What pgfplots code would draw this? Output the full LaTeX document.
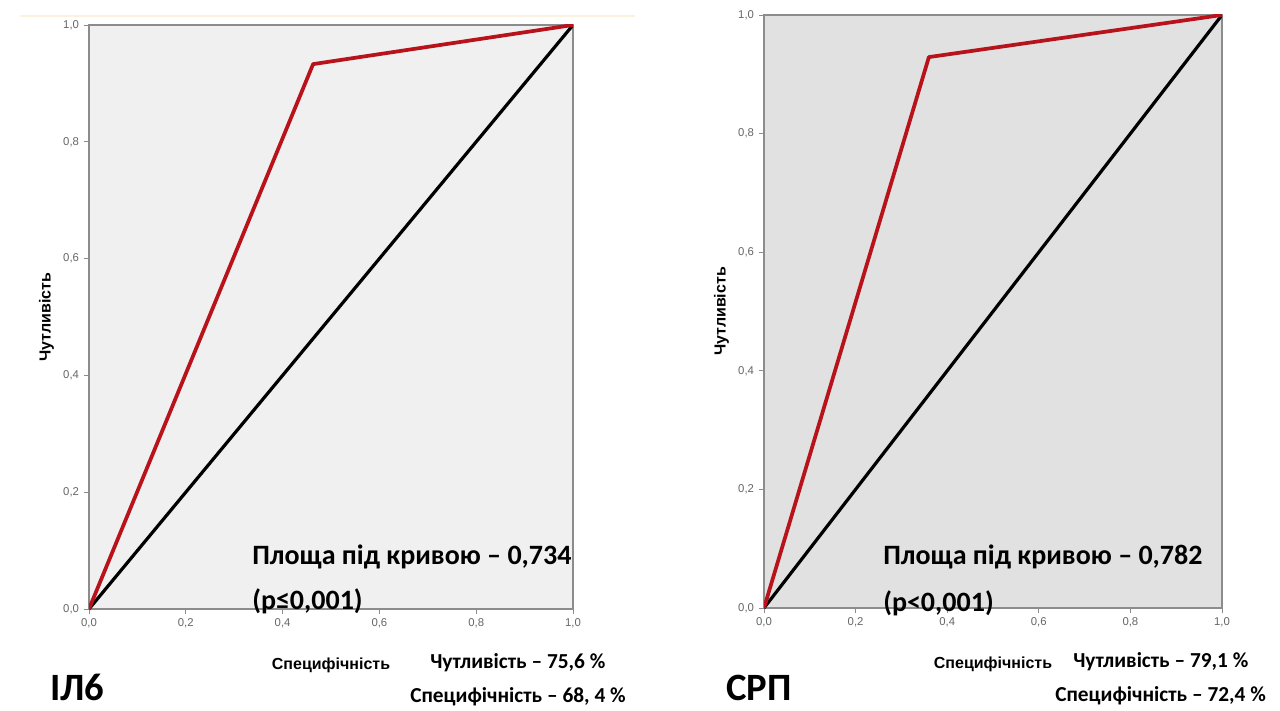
\documentclass[border=0pt]{standalone}
\usepackage{fontspec}
\setmainfont{Carlito}
\newfontfamily\arialf{Liberation Sans}
\usepackage{pgfplots}
\pgfplotsset{compat=1.18}

\definecolor{rocred}{HTML}{B8121B}
\definecolor{framegray}{HTML}{8C8C8C}
\definecolor{bgone}{HTML}{F0F0F0}
\definecolor{bgtwo}{HTML}{E1E1E1}
\definecolor{faint}{HTML}{FBF1DF}

\pgfplotsset{
  roc/.style={
    scale only axis,
    xmin=0, xmax=1, ymin=0, ymax=1,
    xtick={0,0.2,...,1}, ytick={0,0.2,...,1},
    tick align=outside, tick pos=left,
    major tick length=4pt,
    axis line style={framegray, line width=0.9pt},
    every tick/.style={framegray, line width=0.6pt},
    tick label style={font=\arialf\fontsize{8.5}{9}\selectfont, text=black!60},
    /pgf/number format/.cd, fixed, fixed zerofill, precision=1, use comma,
    assume math mode=true, /tikz/.cd,
    label style={font=\arialf\bfseries\fontsize{12}{14}\selectfont},
    xlabel style={yshift=-15pt},
    ylabel style={yshift=0pt},
    xlabel={Специфічність},
    ylabel={Чутливість},
  },
}

\begin{document}
\begin{tikzpicture}[x=0.75pt, y=0.75pt]
\path[use as bounding box, fill=white] (0,0) rectangle (1280,710);
\draw[faint, line width=1.2pt] (20,694) -- (635,694);

\begin{axis}[roc, at={(66.75pt,75.75pt)}, anchor=origin,
  width=363pt, height=438pt, axis background/.style={fill=bgone}]
  \addplot[black, line width=2.4pt] coordinates {(0,0) (1,1)};
  \addplot[rocred, line width=2.8pt, line join=round] coordinates {(0,0) (0.463,0.933) (1,1)};
\end{axis}

\begin{axis}[roc, at={(573pt,76.5pt)}, anchor=origin,
  width=343.5pt, height=444.75pt, axis background/.style={fill=bgtwo}]
  \addplot[black, line width=2.4pt] coordinates {(0,0) (1,1)};
  \addplot[rocred, line width=2.8pt, line join=round] coordinates {(0,0) (0.360,0.929) (1,1)};
\end{axis}

\begin{scope}[every node/.style={font=\bfseries\fontsize{21}{24}\selectfont, inner sep=0pt}]
\node[anchor=west] at (252,153) {Площа під кривою – 0,734};
\node[anchor=west] at (252,109) {(p≤0,001)};
\node[anchor=west] at (883,153) {Площа під кривою – 0,782};
\node[anchor=west] at (883,107) {(p<0,001)};
\end{scope}

\begin{scope}[every node/.style={font=\bfseries\fontsize{16}{18}\selectfont, inner sep=0pt}]
\node[anchor=west] at (430,47) {Чутливість – 75,6 \%};
\node[anchor=west] at (410,13) {Специфічність – 68, 4 \%};
\node[anchor=west] at (1073,48) {Чутливість – 79,1 \%};
\node[anchor=west] at (1055,14) {Специфічність – 72,4 \%};
\end{scope}

\node[anchor=west, inner sep=0pt, font=\bfseries\fontsize{29}{32}\selectfont] at (50,23) {ІЛ6};
\node[anchor=west, inner sep=0pt, font=\bfseries\fontsize{29}{32}\selectfont] at (726,22) {СРП};
\end{tikzpicture}
\end{document}
